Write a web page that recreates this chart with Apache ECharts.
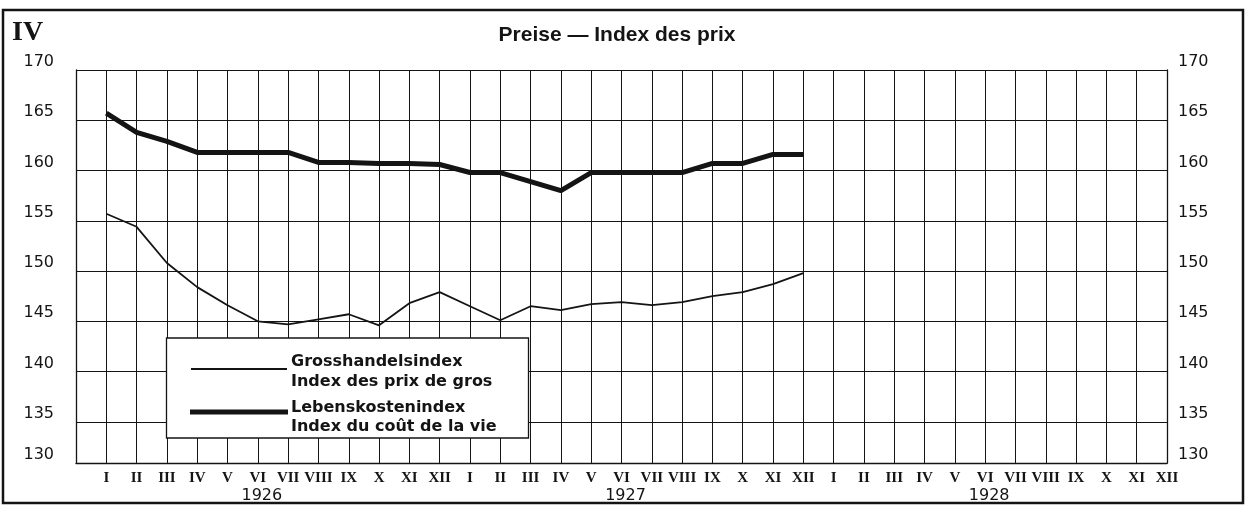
<!DOCTYPE html>
<html><head><meta charset="utf-8">
<script src="https://cdn.jsdelivr.net/npm/echarts@6/dist/echarts.min.js"></script>
<style>html,body{margin:0;padding:0;background:#fff}#c{width:1253px;height:511px}</style>
</head><body><div id="c"></div>
<script>
const months = ['I','II','III','IV','V','VI','VII','VIII','IX','X','XI','XII'];
const years = ['1926','1927','1928'];
const yTicks = [130,135,140,145,150,155,160,165,170];
const wholesale = [155.7,154.4,150.8,148.4,146.6,145.0,144.7,145.2,145.7,144.6,146.8,147.9,
                   146.5,145.1,146.5,146.1,146.7,146.9,146.6,146.9,147.5,147.9,148.7,149.8];
const costOfLiving = [165.7,163.8,162.9,161.8,161.8,161.8,161.8,160.8,160.8,160.7,160.7,160.6,
                      159.8,159.8,158.9,158.0,159.8,159.8,159.8,159.8,160.7,160.7,161.6,161.6];
const legendNames = ['Grosshandelsindex','Index des prix de gros','Lebenskostenindex','Index du coût de la vie'];
const titleText = 'Preise — Index des prix';
const panelText = 'IV';

const yMin = 130.9, yMax = 170;
const categories = [''].concat(years.flatMap(() => months));
const INK = '#141414';

const chart = echarts.init(document.getElementById('c'));
const yLabelVals = yTicks.map(v => Math.max(v, yMin));
function yFmt(v){ return String(Math.round(v/5)*5); }
function xFmt(value, index){
  if (index === 0) return '';
  const i = index - 1;
  if (i % 12 === 5) return '{m|' + value + '}\n{y|' + years[Math.floor(i/12)] + '}';
  return '{m|' + value + '}';
}
const yAxisBase = {
  type: 'value', min: yMin, max: yMax,
  axisLine: {show: true, lineStyle: {color: INK, width: 1.3}},
  axisTick: {show: false, customValues: yTicks.filter(v => v > yMin)},
  axisLabel: {customValues: yLabelVals, formatter: yFmt, color: INK,
              fontFamily: 'DejaVu Sans', fontSize: 16, verticalAlign: 'bottom', lineHeight: 16}
};
const legendFont = 'bold 16px "DejaVu Sans"';
chart.setOption({
  animation: false,
  backgroundColor: '#fff',
  grid: {left: 76, right: 86, top: 70, bottom: 48},
  xAxis: {
    type: 'category', data: categories, boundaryGap: false,
    axisLine: {show: true, lineStyle: {color: INK, width: 1.3}},
    axisTick: {show: false},
    splitLine: {show: true, interval: 0, lineStyle: {color: INK, width: 1}},
    axisLabel: {interval: 0, margin: 7, formatter: xFmt, verticalAlign: 'top',
      rich: {
        m: {fontFamily: 'Liberation Serif', fontWeight: 'bold', fontSize: 15, color: INK, lineHeight: 17},
        y: {fontFamily: 'DejaVu Sans', fontSize: 16, color: INK, lineHeight: 17, padding: [0,0,0,8]}
      }}
  },
  yAxis: [
    Object.assign({}, yAxisBase, {position: 'left',
      splitLine: {show: true, lineStyle: {color: INK, width: 1}},
      axisLabel: Object.assign({}, yAxisBase.axisLabel, {margin: 22, align: 'right'})}),
    Object.assign({}, yAxisBase, {position: 'right',
      splitLine: {show: false},
      axisLabel: Object.assign({}, yAxisBase.axisLabel, {margin: 11, align: 'left'})})
  ],
  series: [
    {name: legendNames[0], type: 'line', data: [null].concat(wholesale), showSymbol: false, symbol: 'none',
     lineStyle: {color: INK, width: 1.8}, z: 3},
    {name: legendNames[2], type: 'line', data: [null].concat(costOfLiving), showSymbol: false, symbol: 'none',
     lineStyle: {color: INK, width: 5, join: 'round'}, z: 3}
  ],
  graphic: [
    {type: 'rect', z: 20, shape: {x: 3, y: 10, width: 1240, height: 493}, style: {fill: 'none', stroke: INK, lineWidth: 2.5}},
    {type: 'text', z: 20, x: 12, y: 19, style: {text: panelText, font: 'bold 28px "Liberation Serif"', fill: INK}},
    {type: 'text', z: 20, x: 617, y: 35, style: {text: titleText, font: 'bold 21px "Liberation Sans"', fill: INK, textAlign: 'center', textVerticalAlign: 'middle'}},
    {type: 'rect', z: 20, shape: {x: 166.5, y: 338, width: 362, height: 100}, style: {fill: '#fff', stroke: INK, lineWidth: 1.3}},
    {type: 'line', z: 21, shape: {x1: 191, y1: 369, x2: 287, y2: 369}, style: {stroke: INK, lineWidth: 2}},
    {type: 'line', z: 21, shape: {x1: 190, y1: 412, x2: 288, y2: 412}, style: {stroke: INK, lineWidth: 5}},
    {type: 'text', z: 21, x: 291, y: 362, style: {text: legendNames[0], font: legendFont, fill: INK, textVerticalAlign: 'middle'}},
    {type: 'text', z: 21, x: 291, y: 382, style: {text: legendNames[1], font: legendFont, fill: INK, textVerticalAlign: 'middle'}},
    {type: 'text', z: 21, x: 291, y: 408, style: {text: legendNames[2], font: legendFont, fill: INK, textVerticalAlign: 'middle'}},
    {type: 'text', z: 21, x: 291, y: 427, style: {text: legendNames[3], font: legendFont, fill: INK, textVerticalAlign: 'middle'}}
  ]
});
</script></body></html>
